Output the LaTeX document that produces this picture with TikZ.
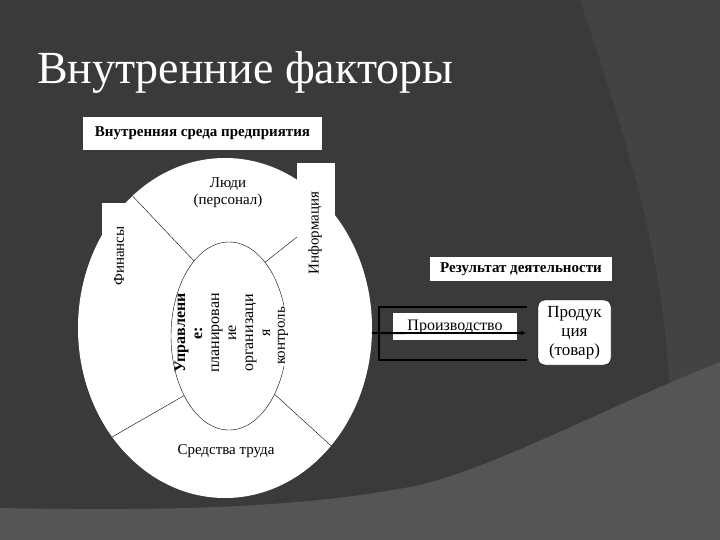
\documentclass[tikz,border=0pt]{standalone}
\usepackage{fontspec}
\setmainfont{Liberation Serif}
\usetikzlibrary{arrows.meta,shapes.geometric}

\definecolor{slidebg}{HTML}{3A3A3A}
\definecolor{slidemid}{HTML}{434343}
\definecolor{slidelow}{HTML}{555555}

\begin{document}
\begin{tikzpicture}[x=1pt, y=-1pt,
  every node/.style={font=\fontsize{15}{17}\selectfont, inner sep=0pt, outer sep=0pt},
  whitebox/.style={fill=white, inner sep=0pt},
  uptext/.style={rotate=90, align=center}]
  % slide background
  \useasboundingbox (0,0) rectangle (720,540);
  \fill[slidebg] (0,0) rectangle (720,540);
  \fill[slidemid] (580,0) .. controls (630,150) and (665,260) .. (670,400) -- (720,400) -- (720,0) -- cycle;
  \fill[slidelow] (0,508) .. controls (200,512) and (320,505) .. (420,485)
    .. controls (500,465) and (600,410) .. (720,362) -- (720,540) -- (0,540) -- cycle;

  \node[anchor=base west, text=white, font=\fontsize{46}{50}\selectfont] (title) at (37,84) {Внутренние факторы};

  % inner environment
  \node[whitebox, minimum width=239pt, minimum height=33pt, font=\bfseries\fontsize{15}{17}\selectfont] (env) at (202.5,133.5) {Внутренняя среда предприятия};
  \node[ellipse, fill=white, minimum width=294pt, minimum height=340pt] (outer) at (225,328) {};
  \node[ellipse, draw, minimum width=116pt, minimum height=188pt] (inner) at (229,336) {};
  \draw (outer.125) -- (inner.115);
  \draw (outer.48) -- (inner.64);
  \draw (outer.224) -- (inner.233);
  \draw (outer.312) -- (inner.308);
  \fill[white] (102,203) rectangle (136,292);
  \fill[white] (297,163) rectangle (335,282);
  \node[uptext] (finance) at (119,256) {Финансы};
  \node[uptext] (info) at (315,233) {Информация};
  \node[align=center] (people) at (228,193) {Люди\\(персонал)};
  \node (tools) at (226,451) {Средства труда};
  \node[uptext, font=\fontsize{16}{17}\selectfont] (manage) at (222.5,333) {\textbf{Управлени}\\\textbf{е:}\\планирован\\ие\\организаци\\я};
  \node[uptext, fill=white, inner sep=1pt, font=\fontsize{15}{17}\selectfont] (ctrl) at (283,336) {контроль};

  % result of activity
  \node[whitebox, minimum width=182pt, minimum height=24pt, font=\bfseries\fontsize{15}{17}\selectfont] (result) at (521,269) {Результат деятельности};
  \coordinate (bandtl) at (379,307);
  \coordinate (bandtr) at (527,307);
  \coordinate (bandbl) at (379,360);
  \coordinate (bandbr) at (527,360);
  \draw[line width=1.2pt] (bandtr) -- (bandtl) -- (bandbl) -- (bandbr);
  \node[whitebox, minimum width=124pt, minimum height=27pt, font=\fontsize{16}{18}\selectfont] (prod) at (455,326.5) {Производство};
  \coordinate (arrowend) at (526,333);
  \draw[line width=1.8pt, -{Latex[length=5pt,width=5pt]}] (outer.-2) -- (arrowend);
  \node[draw, fill=white, rounded corners=7pt, minimum width=73pt, minimum height=65pt, align=center, font=\fontsize{17}{19}\selectfont] (goods) at (574.5,332.5) {Продук\\ция\\(товар)};
\end{tikzpicture}
\end{document}
